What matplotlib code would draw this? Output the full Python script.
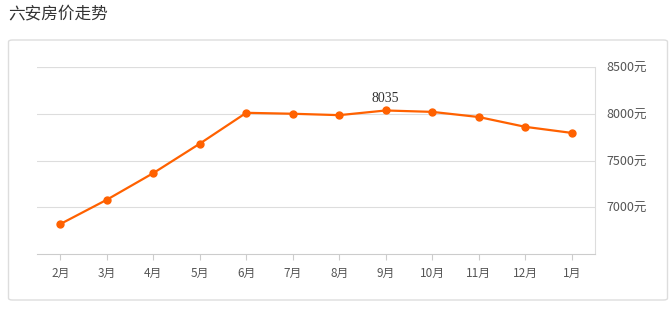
import matplotlib
matplotlib.use("Agg")
import matplotlib.pyplot as plt
from matplotlib.patches import FancyBboxPatch

plt.rcParams['font.family'] = ['Noto Sans CJK SC', 'DejaVu Sans']

months = ['2月', '3月', '4月', '5月', '6月', '7月', '8月', '9月', '10月', '11月', '12月', '1月']
prices = [6820, 7080, 7365, 7680, 8010, 8000, 7985, 8035, 8020, 7965, 7860, 7795]
yticks = [7000, 7500, 8000, 8500]
ytick_labels = ['7000元', '7500元', '8000元', '8500元']
title = '六安房价走势'
peak_label = '8035'

W, H = 670, 310
fig = plt.figure(figsize=(W / 100, H / 100), dpi=100)

# card border
card = FancyBboxPatch((8.5 / W, 1 - 300 / H), 659 / W, 260 / H,
                      boxstyle="round,pad=0,rounding_size=0.006",
                      transform=fig.transFigure, facecolor='none',
                      edgecolor='#dddddd', linewidth=1.0, zorder=-1)
fig.patches.append(card)

fig.text(8 / W, 1 - 14 / H, title, fontsize=12, color='#333333',
         va='center', ha='left')

ax = fig.add_axes([37 / W, 1 - 254 / H, (595 - 37) / W, (254 - 67) / H])
ax.set_facecolor('none')
x = list(range(len(months)))
ax.plot(x, prices, color='#ff6100', linewidth=1.6, marker='o',
        markersize=5, zorder=3, clip_on=False)

ax.set_xlim(-0.5, len(months) - 0.5)
ax.set_ylim(6500, 8500)
ax.set_xticks(x)
ax.set_xticklabels(months)
ax.set_yticks(yticks)
ax.set_yticklabels(ytick_labels)
ax.yaxis.tick_right()
ax.tick_params(axis='y', length=0, pad=8, labelsize=9, labelcolor='#555555')
ax.tick_params(axis='x', length=4, color='#cccccc', pad=5, labelsize=8.5,
               labelcolor='#555555')
ax.grid(axis='y', color='#dddddd', linewidth=0.8)
ax.axhline(8500, color='#dddddd', linewidth=0.8)
for s in ['top', 'left']:
    ax.spines[s].set_visible(False)
ax.spines['right'].set_color('#dddddd')
ax.spines['right'].set_linewidth(0.8)
ax.spines['bottom'].set_color('#cccccc')
ax.spines['bottom'].set_linewidth(0.8)

i = prices.index(max(prices))
ax.annotate(peak_label, (x[i], prices[i]), xytext=(0, 4),
            textcoords='offset points', ha='center', va='bottom',
            fontsize=10, color='#333333', family='Liberation Serif')

fig.savefig('out.png', dpi=100)
